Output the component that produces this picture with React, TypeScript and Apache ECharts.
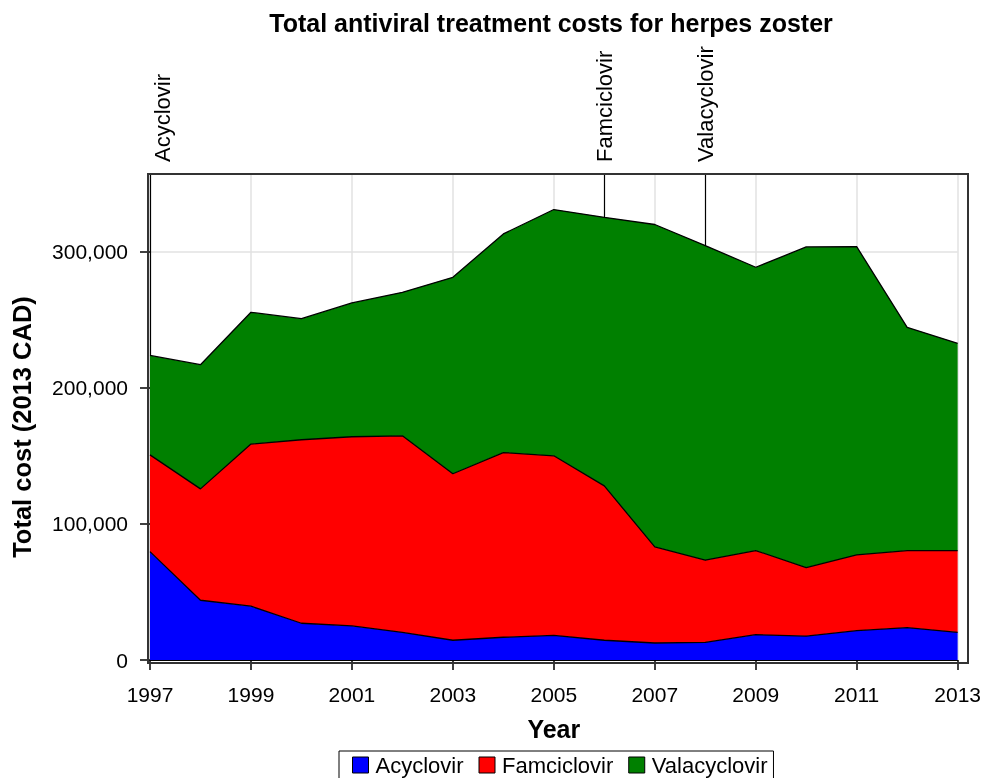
import React, { useEffect, useRef } from "react";
import * as echarts from "echarts";

const years = ["1997", "1998", "1999", "2000", "2001", "2002", "2003", "2004", "2005", "2006", "2007", "2008", "2009", "2010", "2011", "2012", "2013"];
const acyclovir = [79600, 43900, 39500, 27000, 25000, 20300, 14500, 16700, 18100, 14500, 12500, 13000, 18600, 17600, 21600, 23800, 20300];
const famciclovir = [71100, 81800, 119100, 134800, 139000, 144400, 122300, 135700, 131900, 113400, 70600, 60300, 61800, 50300, 55600, 56600, 60100];
const valacyclovir = [73000, 91200, 96800, 88900, 98300, 105400, 144300, 160600, 180900, 197300, 236800, 231100, 208100, 235500, 226400, 164000, 152200];
const launchYears = ["1997", "2006", "2008"];
const launchLabels = ["Acyclovir", "Famciclovir", "Valacyclovir"];
const seriesNames = ["Acyclovir", "Famciclovir", "Valacyclovir"];
const seriesColors = ["#0000ff", "#ff0000", "#008000"];
const seriesData = [acyclovir, famciclovir, valacyclovir];
const yTicks = [0, 100000, 200000, 300000];
const yMax = 357000;

const FONT = "'Liberation Sans', Arial, Helvetica, sans-serif";

export default function App() {
  const ref = useRef<HTMLDivElement>(null);
  useEffect(() => {
    if (!ref.current) return;
    const chart = echarts.init(ref.current, null, { renderer: "svg" });
    const option: any = {
      animation: false,
      textStyle: { fontFamily: FONT },
      grid: { left: 150, right: 26, top: 174, bottom: 118 },
      legend: {
        data: seriesNames,
        left: 339,
        top: 751,
        orient: "horizontal",
        icon: "rect",
        itemWidth: 16,
        itemHeight: 16,
        itemGap: 15,
        borderColor: "#000",
        borderWidth: 1,
        padding: [3, 6, 4, 13],
        textStyle: { fontSize: 22, color: "#000", fontFamily: FONT, padding: [0, 0, 0, 2] },
        itemStyle: { borderColor: "#000", borderWidth: 1 },
      },
      xAxis: {
        type: "category",
        data: years,
        boundaryGap: false,
        axisLine: { show: true, lineStyle: { color: "#000", width: 1 } },
        axisTick: { show: true, interval: 1, length: 10, lineStyle: { color: "#000", width: 1.5 } },
        axisLabel: { interval: 1, fontSize: 21, color: "#000", margin: 24, fontFamily: FONT },
        splitLine: { show: true, interval: 1, lineStyle: { color: "#e2e2e2", width: 1.5 } },
        name: "Year",
        nameLocation: "middle",
        nameGap: 56,
        nameTextStyle: { fontSize: 25, fontWeight: "bold", color: "#000", fontFamily: FONT },
      },
      yAxis: {
        type: "value",
        min: 0,
        max: yMax,
        axisLine: { show: true, lineStyle: { color: "#000", width: 1 } },
        axisTick: { show: true, length: 10, customValues: yTicks, lineStyle: { color: "#000", width: 1.5 } },
        axisLabel: {
          fontSize: 21,
          color: "#000",
          margin: 22,
          fontFamily: FONT,
          customValues: yTicks,
          formatter: (v: number) => v.toLocaleString("en-US"),
        },
        splitLine: { show: true, lineStyle: { color: "#e2e2e2", width: 1.5 } },
      },
      series: [
        {
          name: "launch",
          type: "line",
          data: years.map(() => null),
          z: 1,
          silent: true,
          symbol: "none",
          markLine: {
            z: 1,
            silent: true,
            symbol: ["none", "none"],
            label: { show: false },
            lineStyle: { color: "#000", width: 1.2, type: "solid" },
            data: launchYears.map((y) => ({ xAxis: y })),
          },
        },
        ...seriesNames.map((name, i) => ({
          name,
          type: "line",
          stack: "total",
          data: seriesData[i],
          z: 3,
          symbol: "none",
          color: seriesColors[i],
          itemStyle: { color: seriesColors[i] },
          lineStyle: { color: "#000", width: 1.3 },
          areaStyle: { color: seriesColors[i], opacity: 1 },
        })),
      ],
    };
    chart.setOption(option);

    const px = launchYears.map((y) => chart.convertToPixel({ xAxisIndex: 0 }, y) as number);
    chart.setOption({
      graphic: [
        {
          type: "text",
          x: 551,
          y: 23,
          style: {
            text: "Total antiviral treatment costs for herpes zoster",
            fontSize: 25,
            fontWeight: "bold",
            fontFamily: FONT,
            fill: "#000",
            align: "center",
            verticalAlign: "middle",
          },
        },
        {
          type: "text",
          x: 22,
          y: 427,
          rotation: Math.PI / 2,
          style: {
            text: "Total cost (2013 CAD)",
            fontSize: 25.5,
            fontWeight: "bold",
            fontFamily: FONT,
            fill: "#000",
            align: "center",
            verticalAlign: "middle",
          },
        },
        ...launchLabels.map((t, i) => ({
          type: "text",
          x: px[i] + (i === 0 ? 12 : 0),
          y: 162,
          rotation: Math.PI / 2,
          style: {
            text: t,
            fontSize: 22,
            fontFamily: FONT,
            fill: "#000",
            align: "left",
            verticalAlign: "middle",
          },
        })),
        {
          type: "rect",
          z: 100,
          shape: { x: 148, y: 174, width: 820, height: 489 },
          style: { fill: "none", stroke: "#333", lineWidth: 2 },
        },
      ],
    });
    return () => chart.dispose();
  }, []);
  return <div ref={ref} style={{ position: "fixed", left: 0, top: 0, width: 984, height: 778 }} />;
}
